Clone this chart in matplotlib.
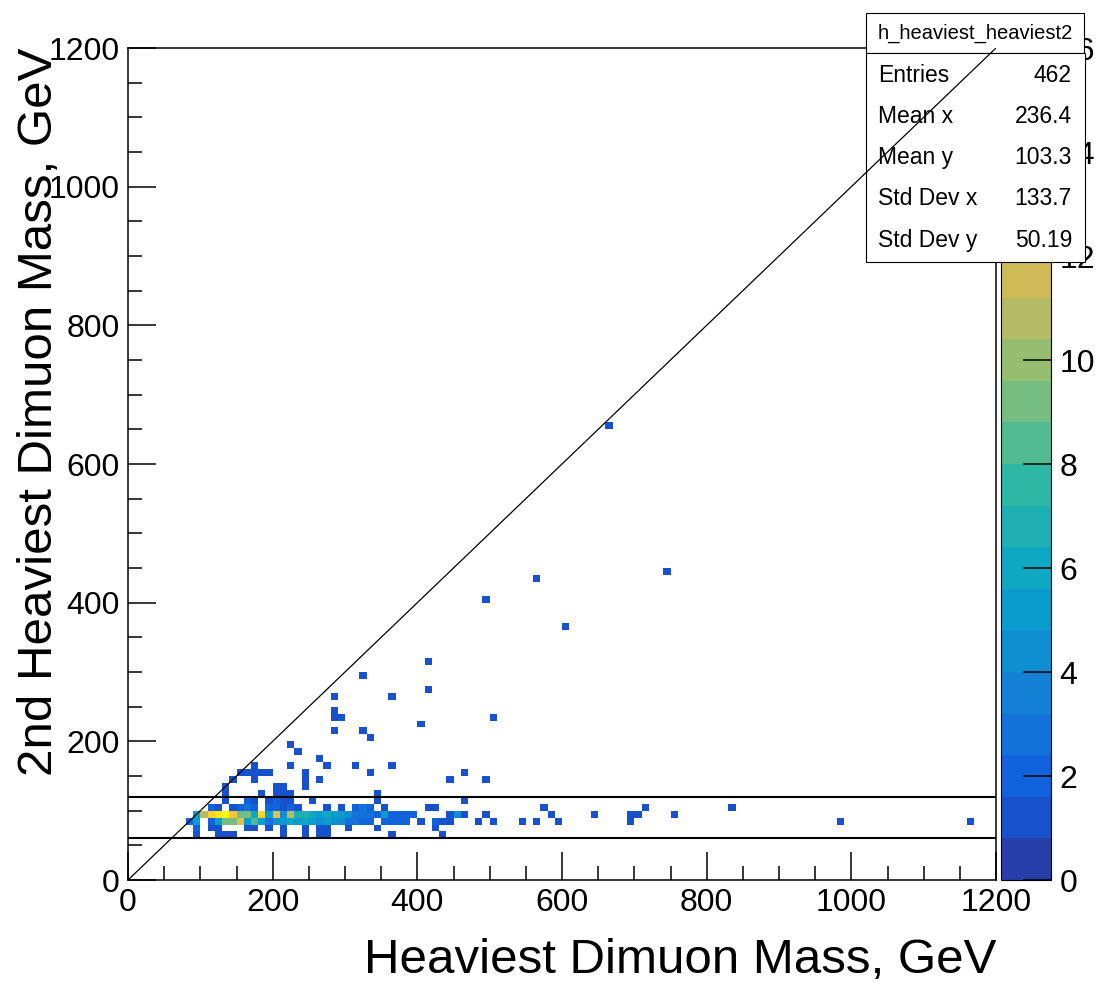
import numpy as np
import matplotlib
matplotlib.use('Agg')
import matplotlib.pyplot as plt
from matplotlib.colors import LinearSegmentedColormap, ListedColormap, BoundaryNorm
from matplotlib.patches import Rectangle
from matplotlib.ticker import MultipleLocator

plt.rcParams['font.family'] = ['Liberation Sans', 'DejaVu Sans']

# 10 GeV binning on both axes
edges = np.arange(0, 1210, 10)

# dense band near the Z peak: one list per 10 GeV row of y, x bins from 80 to 390 GeV
core_x = np.arange(80, 400, 10)
row_60 = [0, 1, 0, 0, 1, 1, 1, 0, 0, 0, 0, 0, 0, 1, 0, 0, 1, 0, 1, 1, 0, 0, 0, 0, 0, 0, 0, 0, 1, 0, 0, 0]
row_70 = [0, 2, 0, 1, 1, 0, 0, 0, 1, 1, 0, 1, 0, 1, 0, 0, 1, 0, 1, 1, 0, 0, 1, 0, 0, 0, 1, 0, 0, 0, 0, 0]
row_80 = [2, 5, 0, 2, 5, 9, 9, 12, 5, 8, 5, 3, 4, 5, 6, 5, 6, 5, 4, 5, 4, 4, 3, 3, 2, 2, 0, 2, 2, 2, 2, 0]
row_90 = [0, 5, 11, 14, 15, 16, 13, 9, 9, 6, 14, 5, 12, 4, 11, 7, 7, 6, 5, 6, 5, 5, 4, 3, 3, 3, 2, 5, 2, 2, 2, 2]
row_100 = [0, 0, 0, 2, 1, 0, 1, 2, 3, 2, 0, 2, 2, 1, 2, 1, 0, 0, 0, 1, 0, 1, 0, 2, 3, 2, 0, 1, 0, 0, 0, 0]
row_110 = [0, 0, 0, 0, 0, 1, 0, 0, 2, 1, 0, 1, 2, 1, 1, 0, 0, 1, 0, 0, 0, 0, 0, 0, 0, 0, 1, 0, 0, 0, 0, 0]
row_120 = [0, 0, 0, 0, 0, 1, 0, 0, 0, 0, 1, 0, 1, 1, 1, 0, 0, 0, 0, 0, 0, 0, 0, 0, 0, 0, 1, 0, 0, 0, 0, 0]
core_y = [60, 70, 80, 90, 100, 110, 120]

# isolated bins (lower bin edges, GeV)
spread_x = [130, 140, 150, 160, 170, 180, 190, 170, 170, 200, 210, 240, 240, 240, 260,
            220, 270, 310, 330, 360, 260, 230, 220, 280, 320, 330, 400, 280, 290, 500,
            280, 280, 360, 410, 320, 410, 490, 560, 600, 740, 660,
            440, 460, 490, 460, 410, 420, 570, 710, 830,
            440, 450, 460, 490, 580, 640, 690, 700, 750,
            400, 420, 430, 440, 480, 500, 540, 560, 590, 690, 980, 1160,
            420, 430]
spread_y = [130, 140, 150, 150, 150, 150, 150, 160, 140, 130, 130, 130, 140, 150, 140,
            160, 160, 160, 150, 160, 170, 180, 190, 210, 210, 200, 220, 230, 230, 230,
            240, 260, 260, 270, 290, 310, 400, 430, 360, 440, 650,
            140, 150, 140, 110, 100, 100, 100, 100, 100,
            90, 90, 90, 90, 90, 90, 90, 90, 90,
            80, 80, 80, 80, 80, 80, 80, 80, 80, 80, 80, 80,
            70, 60]
spread_n = [1, 1, 1, 1, 1, 1, 1, 1, 1, 1, 1, 1, 1, 1, 1,
            1, 1, 1, 1, 1, 1, 1, 1, 1, 1, 1, 1, 1, 1, 1,
            1, 1, 1, 1, 1, 1, 1, 1, 1, 1, 1,
            1, 1, 1, 1, 1, 1, 1, 1, 1,
            1, 4, 1, 1, 1, 1, 1, 1, 1,
            1, 2, 1, 1, 1, 1, 1, 1, 1, 1, 1, 1,
            1, 1]

stat_names = ['Entries', 'Mean x', 'Mean y', 'Std Dev x', 'Std Dev y']
stat_values = ['462', '236.4', '103.3', '133.7', '50.19']

# ROOT kBird palette
bird_r = [0.2082, 0.0592, 0.0780, 0.0232, 0.1802, 0.5301, 0.8186, 0.9956, 0.9764]
bird_g = [0.1664, 0.3599, 0.5041, 0.6419, 0.7178, 0.7492, 0.7328, 0.7862, 0.9832]
bird_b = [0.5293, 0.8684, 0.8385, 0.7914, 0.6425, 0.4662, 0.3499, 0.1968, 0.0539]
bird = LinearSegmentedColormap.from_list('bird', list(zip(bird_r, bird_g, bird_b)))
zmax = 16
nlev = 20
levels = np.linspace(0, zmax, nlev + 1)
cmap = ListedColormap([bird((k + 0.99) / nlev) for k in range(nlev)])
norm = BoundaryNorm(levels, cmap.N)

xs, ys, ws = [], [], []
for yv, row in zip(core_y, [row_60, row_70, row_80, row_90, row_100, row_110, row_120]):
    for xv, n in zip(core_x, row):
        if n:
            xs.append(xv); ys.append(yv); ws.append(n)
xs += spread_x; ys += spread_y; ws += spread_n
h, _, _ = np.histogram2d(np.array(xs) + 5, np.array(ys) + 5, bins=[edges, edges], weights=ws)
h = np.ma.masked_equal(h.T, 0)

W, H = 1097, 986
fig = plt.figure(figsize=(W / 100, H / 100), dpi=100)
ax = fig.add_axes([128 / W, 1 - 880 / H, 868 / W, 832 / H])
cax = fig.add_axes([1001 / W, 1 - 880 / H, 50 / W, 832 / H])
ax.set_zorder(2)

mesh = ax.pcolormesh(edges, edges, h, cmap=cmap, norm=norm)
ax.set_xlim(0, 1200)
ax.set_ylim(0, 1200)

ax.plot([0, 1200], [0, 1200], color='black', lw=0.9, zorder=8)
ax.hlines([60, 120], 0, 1200, color='black', lw=1.5, zorder=3)

ax.xaxis.set_major_locator(MultipleLocator(200))
ax.yaxis.set_major_locator(MultipleLocator(200))
ax.xaxis.set_minor_locator(MultipleLocator(50))
ax.yaxis.set_minor_locator(MultipleLocator(50))
ax.tick_params(which='major', direction='in', length=20, width=1.1, labelsize=23, pad=6)
ax.tick_params(which='minor', direction='in', length=10, width=1.1)
for s in ax.spines.values():
    s.set_linewidth(1.1)

cb = fig.colorbar(mesh, cax=cax, ticks=range(0, zmax + 1, 2))
cb.outline.set_linewidth(0.8)
cax.tick_params(direction='in', length=20, width=1.1, labelsize=23, pad=6)
cax.minorticks_off()

fig.text(996 / W, 1 - 973 / H, 'Heaviest Dimuon Mass, GeV', ha='right', va='baseline', fontsize=35.5)
fig.text(40 / W, 1 - 48 / H, '2nd Heaviest Dimuon Mass, GeV', ha='center', va='top',
         rotation=90, fontsize=35.5)

# statistics box
tf = fig.transFigure
ax.add_patch(Rectangle((866 / W, 1 - 53 / H), 218 / W, 40 / H, transform=tf, clip_on=False,
                       facecolor='white', edgecolor='black', lw=0.8, zorder=6))
ax.add_patch(Rectangle((866 / W, 1 - 262 / H), 219 / W, 209 / H, transform=tf, clip_on=False,
                       facecolor='white', edgecolor='black', lw=0.8, zorder=6))
ax.text(975 / W, 1 - 33 / H, 'h_heaviest_heaviest2', transform=tf, ha='center', va='center',
        fontsize=14.5, zorder=7, clip_on=False)
for k, (name, val) in enumerate(zip(stat_names, stat_values)):
    yy = 1 - (75 + 41.3 * k) / H
    ax.text(878 / W, yy, name, transform=tf, ha='left', va='center', fontsize=16.5, zorder=7)
    ax.text(1072 / W, yy, val, transform=tf, ha='right', va='center', fontsize=16.5, zorder=7)

fig.savefig('out.png', dpi=100)
